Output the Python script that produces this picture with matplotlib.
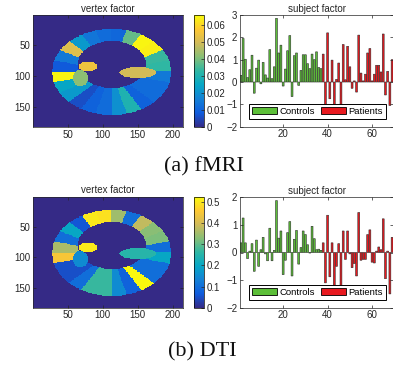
import numpy as np
import matplotlib
matplotlib.use("Agg")
import matplotlib.pyplot as plt
from matplotlib.colors import LinearSegmentedColormap
from matplotlib.patches import Patch

plt.rcParams['font.family'] = ['Liberation Sans', 'DejaVu Sans']

# ---------------- data ----------------
# subject factor bars
fmri_controls = [0.3, 1.95, 1.02, 0.2, 0.55, 1.2, -0.5, 0.62, 0.98, -0.08, 0.88, 0.32, 0.18,
                 1.45, 0.15, 0.68, 2.85, 1.3, 1.65, -0.18, 0.58, 1.4, 2.08, -0.65, 1.18,
                 1.3, -0.15, 0.52, 1.22, 1.22, 0.82, 0.6, 1.25, 1.0, 1.35, 0.65, 0.6]
fmri_patients = [1.25, -1.15, 2.2, -0.75, 0.98, -1.05, 0.12, 0.85, -1.15, 1.68, 0.1, 1.6,
                 0.68, -0.28, 0.05, -0.45, 2.1, 0.4, 0.05, 0.35, 1.3, 1.5, 0.05, 0.35,
                 0.75, 0.75, 0.45, 2.15, -0.58, 0.48, -1.05, 1.0]
dti_controls = [0.35, 1.25, 0.35, -0.22, 0.05, 0.32, -0.68, 0.45, -0.5, 0.1, 0.55, -0.05,
                -0.3, 0.88, -0.3, 0.08, 1.88, 0.52, 0.78, -0.8, -0.28, 0.72, 1.12, -0.85,
                0.48, 0.8, -0.42, 0.18, 0.78, 0.65, 0.28, -0.02, 0.95, 0.5, 0.1, 0.12, 0.08]
dti_patients = [0.35, -1.1, 1.35, -0.88, 0.35, -1.3, -0.5, 0.32, -1.3, 0.78, -0.25, 0.78,
                -0.05, -0.55, -0.4, -0.85, 1.45, -0.28, -0.25, -0.25, 0.65, 0.82, -0.35,
                -0.38, 0.05, 0.2, 0.1, 1.22, -0.95, 0.05, -1.5, 0.55]

# vertex factor: values of ring parcels (24 sectors, clockwise from the right) and 3 inner parcels
fmri_sectors = [0.015, 0.012, 0.012, 0.010, 0.030, 0.020, 0.012, 0.010, 0.006, 0.022, 0.025, 0.065,
                0.008, 0.015, 0.052, 0.022, 0.014, 0.012, 0.011, 0.038, 0.065, 0.064, 0.034, 0.033]
fmri_inner = [0.055, 0.042, 0.050]
dti_sectors = [0.20, 0.10, 0.10, 0.52, 0.08, 0.15, 0.27, 0.27, 0.10, 0.05, 0.05, 0.45,
               0.36, 0.10, 0.20, 0.06, 0.50, 0.49, 0.35, 0.10, 0.38, 0.33, 0.32, 0.10]
dti_inner = [0.50, 0.15, 0.25]

fmri_cticks = [0, 0.01, 0.02, 0.03, 0.04, 0.05, 0.06]
fmri_clabels = ['0', '0.01', '0.02', '0.03', '0.04', '0.05', '0.06']
dti_cticks = [0, 0.1, 0.2, 0.3, 0.4, 0.5]
dti_clabels = ['0', '0.1', '0.2', '0.3', '0.4', '0.5']
fmri_vmax = 0.066
dti_vmax = 0.524

img_xticks = [50, 100, 150, 200]
img_yticks = [50, 100, 150]
bar_xticks = [20, 40, 60]
fmri_yticks = [-2, -1, 0, 1, 2, 3]
dti_yticks = [-2, -1, 0, 1, 2]
legend_labels = ['Controls', 'Patients']
captions = ['(a) fMRI', '(b) DTI']

# ---------------- style ----------------
parula_anchors = [
    (0.2081, 0.1663, 0.5292), (0.0591, 0.3598, 0.8683), (0.0779, 0.5040, 0.8384),
    (0.0228, 0.6535, 0.7768), (0.1801, 0.7177, 0.6424), (0.5300, 0.7491, 0.4661),
    (0.8185, 0.7327, 0.3498), (0.9955, 0.7861, 0.1967), (0.9763, 0.9831, 0.0538)]
parula = LinearSegmentedColormap.from_list('parula', parula_anchors, N=256)

GREEN = '#5cbf38'
RED = '#e8191f'
TXT = '#262626'
FS = 7

W, H = 393, 369
fig = plt.figure(figsize=(W / 100, H / 100), dpi=100)


def rect(x0, y0, x1, y1):
    return [x0 / W, 1 - y1 / H, (x1 - x0) / W, (y1 - y0) / H]


# parcellation geometry (image grid)
NX, NY = 214, 182
yy, xx = np.mgrid[1:NY + 1, 1:NX + 1]
outer = ((xx - 112.7) / 85) ** 2 + ((yy - 93) / 70) ** 2 <= 1
hole = ((xx - 113) / 49) ** 2 + ((yy - 81) / 38) ** 2 < 1
ring = outer & ~hole
theta = np.degrees(np.arctan2((yy - 92) / 70.0, (xx - 112) / 85.0)) % 360
sector = (theta // 15).astype(int)
inner_geom = [(79, 84, 13, 8), (68, 103, 11, 13), (150, 94, 26, 9)]


def build_image(sector_vals, inner_vals):
    img = np.zeros((NY, NX))
    sv = np.asarray(sector_vals)
    img[ring] = sv[sector[ring]]
    for (cx, cy, ax_, ay_), v in zip(inner_geom, inner_vals):
        m = ((xx - cx) / ax_) ** 2 + ((yy - cy) / ay_) ** 2 <= 1
        img[m] = v
    return img


def style_axes(ax):
    for s in ax.spines.values():
        s.set_linewidth(0.5)
        s.set_color(TXT)
    ax.tick_params(direction='in', labelsize=FS, colors=TXT, length=2.5, width=0.5,
                   top=True, right=True, pad=2)


def draw_image(rc, rcb, sector_vals, inner_vals, vmax, cticks, clabels):
    ax = fig.add_axes(rc)
    img = build_image(sector_vals, inner_vals)
    im = ax.imshow(img, cmap=parula, vmin=0, vmax=vmax, aspect='auto', interpolation='nearest',
                   extent=(0.5, NX + 0.5, NY + 0.5, 0.5))
    ax.set_xticks(img_xticks)
    ax.set_yticks(img_yticks)
    style_axes(ax)
    ax.set_title('vertex factor', fontsize=FS, color=TXT, pad=2.5)
    cax = fig.add_axes(rcb)
    cb = fig.colorbar(im, cax=cax)
    cb.set_ticks(cticks)
    cb.set_ticklabels(clabels)
    cb.outline.set_linewidth(0.5)
    cax.tick_params(direction='in', labelsize=FS, colors=TXT, length=2, width=0.5, pad=2)


def draw_bars(rb, controls, patients, yticks, ylim):
    ax = fig.add_axes(rb)
    xc = np.arange(1, len(controls) + 1)
    xp = np.arange(len(controls) + 1, len(controls) + len(patients) + 1)
    ax.bar(xc, controls, width=0.85, color=GREEN, edgecolor='#2a2a2a', linewidth=0.4, snap=False)
    ax.bar(xp, patients, width=0.85, color=RED, edgecolor='#2a2a2a', linewidth=0.4, snap=False)
    ax.set_xlim(0.6, 69.4)
    ax.set_ylim(*ylim)
    ax.set_xticks(bar_xticks)
    ax.set_yticks(yticks)
    style_axes(ax)
    ax.spines['right'].set_visible(False)
    ax.set_title('subject factor', fontsize=FS, color=TXT, pad=2.5)
    handles = [Patch(facecolor=GREEN, edgecolor='black', linewidth=0.6),
               Patch(facecolor=RED, edgecolor='black', linewidth=0.6)]
    leg = ax.legend(handles, legend_labels, loc='lower center', bbox_to_anchor=(0.505, 0.07),
                    ncol=2, fontsize=6.8, fancybox=False, framealpha=1, edgecolor='black',
                    handlelength=2.7, handleheight=0.75, handletextpad=0.25, columnspacing=0.6,
                    borderpad=0.3, borderaxespad=0)
    leg.get_frame().set_linewidth(0.7)
    leg.set_zorder(10)


draw_image(rect(33, 15, 183, 127), rect(194, 15, 204, 127), fmri_sectors, fmri_inner,
           fmri_vmax, fmri_cticks, fmri_clabels)
draw_bars(rect(240, 15, 393, 126.7), fmri_controls, fmri_patients, fmri_yticks, (-2, 3))

draw_image(rect(33, 196.7, 183, 307.7), rect(194, 196.7, 204, 307.7), dti_sectors, dti_inner,
           dti_vmax, dti_cticks, dti_clabels)
draw_bars(rect(240, 197.3, 393, 307.7), dti_controls, dti_patients, dti_yticks, (-2, 2))

fig.text(204 / W, 1 - 167 / H, captions[0], ha='center', va='center', fontsize=16,
         family='Liberation Serif', color='#111111')
fig.text(202 / W, 1 - 352 / H, captions[1], ha='center', va='center', fontsize=16,
         family='Liberation Serif', color='#111111')

fig.savefig('out.png', dpi=100)
